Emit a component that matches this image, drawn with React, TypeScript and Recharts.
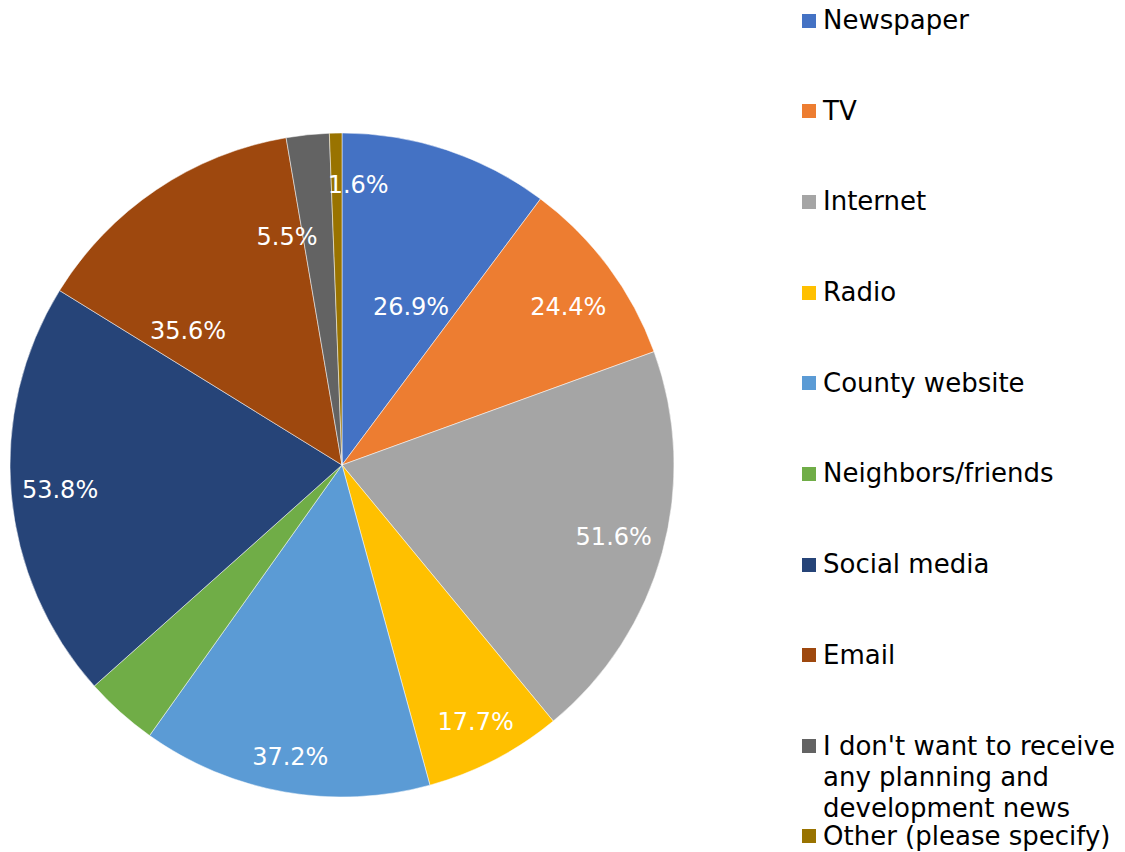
import React from 'react';
import { PieChart, Pie, Cell, Legend } from 'recharts';

const categories = [
  'Newspaper',
  'TV',
  'Internet',
  'Radio',
  'County website',
  'Neighbors/friends',
  'Social media',
  'Email',
  "I don't want to receive any planning and development news",
  'Other (please specify)',
];
const shares = [26.9, 24.4, 51.6, 17.7, 37.2, 9.4, 53.8, 35.6, 5.5, 1.6];
const colors = [
  '#4472C4', '#ED7D31', '#A5A5A5', '#FFC000', '#5B9BD5',
  '#70AD47', '#264478', '#9E480E', '#636363', '#997300',
];
// slices whose label is not shown in the original
const hiddenLabels = ['Neighbors/friends'];

const data = categories.map((name, i) => ({ name, value: shares[i] }));

const FONT = '"DejaVu Sans", sans-serif';
const RADIAN = Math.PI / 180;

// label placement tweaks (radius, clockwise angle shift) copied from the original layout
const labelPlacement: Record<string, { r: number; shift: number }> = {
  Newspaper: { r: 172, shift: 5.3 },
  TV: { r: 276, shift: 1.7 },
  Internet: { r: 281, shift: -0.5 },
  Radio: { r: 290, shift: 0 },
  'County website': { r: 297, shift: 0 },
  'Social media': { r: 283, shift: 0 },
  Email: { r: 204, shift: -15 },
  "I don't want to receive any planning and development news": { r: 235, shift: -7.6 },
  'Other (please specify)': { r: 280, shift: 4.4 },
};

const renderLabel = (props: any) => {
  const { cx, cy, midAngle, index } = props;
  const name = categories[index];
  if (hiddenLabels.includes(name)) return null;
  const p = labelPlacement[name] || { r: 285, shift: 0 };
  const a = (midAngle - p.shift) * RADIAN;
  const x = cx + p.r * Math.cos(a);
  const y = cy - p.r * Math.sin(a);
  return (
    <text
      x={x}
      y={y}
      fill="#fff"
      textAnchor="middle"
      dominantBaseline="central"
      fontFamily={FONT}
      fontSize={24}
    >
      {shares[index].toFixed(1)}%
    </text>
  );
};

const renderLegend = () => (
  <div
    style={{
      display: 'flex',
      flexDirection: 'column',
      fontFamily: FONT,
      fontSize: 26,
      lineHeight: '31px',
      color: '#000',
    }}
  >
    {categories.map((c, i) => {
      const last = i === categories.length - 1;
      return (
        <div
          key={c}
          style={{
            display: 'flex',
            alignItems: 'flex-start',
            minHeight: last ? undefined : 90.7,
            marginTop: last ? -3 : 0,
          }}
        >
          <span
            style={{
              width: 14,
              height: 14,
              background: colors[i],
              marginTop: 8.5,
              marginRight: 7,
              flexShrink: 0,
            }}
          />
          <span>{c}</span>
        </div>
      );
    })}
  </div>
);

export default function App() {
  return (
    <div style={{ width: 1117, height: 844, background: '#fff' }}>
      <PieChart width={1117} height={844} margin={{ top: 0, right: 0, bottom: 0, left: 0 }}>
        <Pie
          data={data}
          dataKey="value"
          nameKey="name"
          cx={334}
          cy={457}
          outerRadius={332}
          startAngle={90}
          endAngle={-270}
          stroke="#fff"
          strokeWidth={0.5}
          label={renderLabel}
          labelLine={false}
          isAnimationActive={false}
        >
          {data.map((d, i) => (
            <Cell key={d.name} fill={colors[i]} />
          ))}
        </Pie>
        <Legend
          layout="vertical"
          align="right"
          verticalAlign="top"
          content={renderLegend}
          wrapperStyle={{ top: -3, left: 794, width: 323 }}
        />
      </PieChart>
    </div>
  );
}
